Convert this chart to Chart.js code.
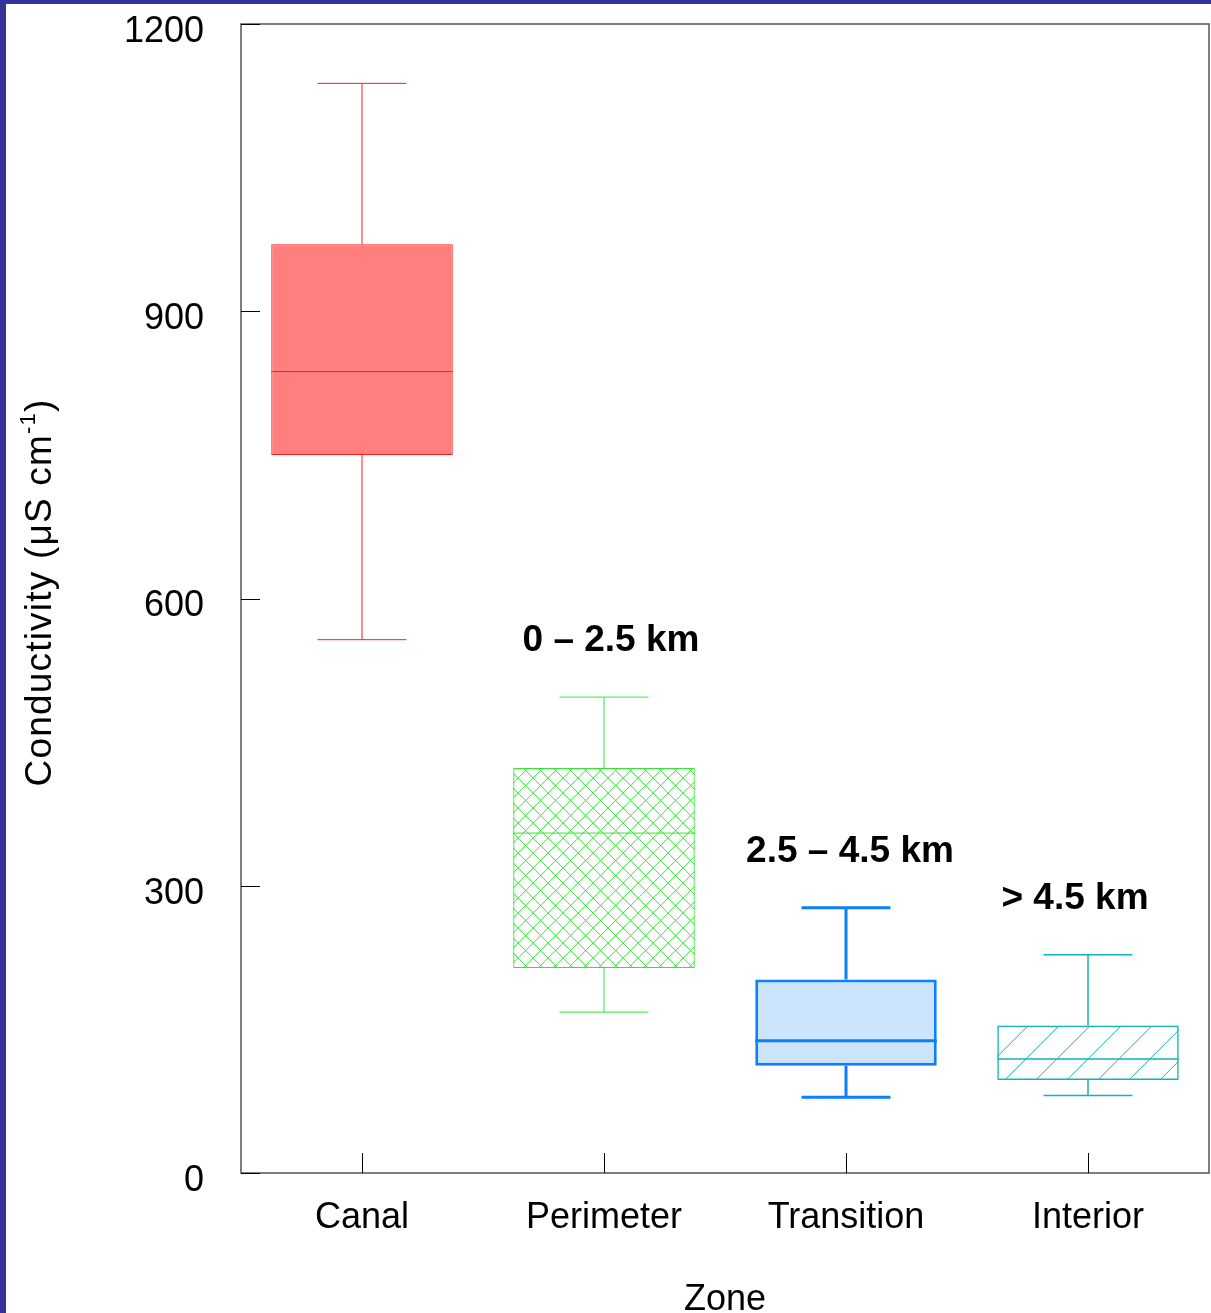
<!DOCTYPE html>
<html>
<head>
<meta charset="utf-8">
<script src="https://cdn.jsdelivr.net/npm/chart.js@4/dist/chart.umd.min.js"></script>
<style>
  html, body { margin: 0; padding: 0; background: #333399; overflow: hidden; }
  #wrap { position: absolute; left: 6px; top: 4px; width: 1205px; height: 1318px; background: #fff; }
</style>
</head>
<body>
<div id="wrap"><canvas id="chart" width="1205" height="1318"></canvas></div>
<script>
// Данные: зоны и статистика ящиков
const zones = ["Canal", "Perimeter", "Transition", "Interior"];
const whiskerMin = [557, 168, 79, 81];
const q1 = [750, 214, 112, 97];
const median = [837, 355, 138, 119];
const q3 = [970, 423, 202, 154];
const whiskerMax = [1138, 497, 277, 228];
const distanceLabels = ["", "0 \u2013 2.5 km", "2.5 \u2013 4.5 km", "> 4.5 km"];
const yTicks = [0, 300, 600, 900, 1200];

const FONT = "'Liberation Sans', Arial, sans-serif";

// Оформление
const lineColors = ["#ff1a1a", "#2ee82e", "#0a80ff", "#14b4b4"];
const lineWidths = [1, 1, 3, 1.5];
const fills = ["#ff7f7f", "rgba(0,0,0,0)", "#cce4fc", "rgba(0,0,0,0)"];
// штриховка: шаг по горизонтали, перекрёстная или нет (0 — без штриховки)
const hatchStep = [0, 15, 0, 31];
const hatchCross = [false, true, false, false];
const labelDx = [0, 7, 4, -13];

const ctx = document.getElementById("chart").getContext("2d");

// Штриховка внутри ящиков
const boxHatch = {
  id: "boxHatch",
  beforeDatasetsDraw(chart) {
    const c = chart.ctx;
    const meta = chart.getDatasetMeta(0);
    meta.data.forEach((el, i) => {
      if (!hatchStep[i]) return;
      const p = el.getProps(["x", "y", "base", "width"], true);
      const left = p.x - p.width / 2;
      const top = Math.min(p.y, p.base);
      const h = Math.abs(p.base - p.y);
      const w = p.width;
      const step = hatchStep[i];
      c.save();
      c.beginPath();
      c.rect(left, top, w, h);
      c.clip();
      c.strokeStyle = lineColors[i];
      c.lineWidth = 1;
      c.beginPath();
      for (let k = -h; k < w + step; k += step) {
        c.moveTo(left + k, top + h);
        c.lineTo(left + k + h, top);
        if (hatchCross[i]) {
          c.moveTo(left + k, top);
          c.lineTo(left + k + h, top + h);
        }
      }
      c.stroke();
      c.restore();
    });
  },
};

// Усы, медианы, рамка, засечки и подписи
const boxExtras = {
  id: "boxExtras",
  afterDatasetsDraw(chart) {
    const c = chart.ctx;
    const xs = chart.scales.x;
    const ys = chart.scales.y;
    const meta = chart.getDatasetMeta(0);
    const area = chart.chartArea;
    c.save();
    zones.forEach((z, i) => {
      const x = xs.getPixelForValue(i);
      const bw = meta.data[i].width;
      const cap = bw * 0.245;
      c.strokeStyle = lineColors[i];
      c.lineWidth = lineWidths[i];
      c.beginPath();
      c.moveTo(x, ys.getPixelForValue(q3[i]));
      c.lineTo(x, ys.getPixelForValue(whiskerMax[i]));
      c.moveTo(x - cap, ys.getPixelForValue(whiskerMax[i]));
      c.lineTo(x + cap, ys.getPixelForValue(whiskerMax[i]));
      c.moveTo(x, ys.getPixelForValue(q1[i]));
      c.lineTo(x, ys.getPixelForValue(whiskerMin[i]));
      c.moveTo(x - cap, ys.getPixelForValue(whiskerMin[i]));
      c.lineTo(x + cap, ys.getPixelForValue(whiskerMin[i]));
      c.moveTo(x - bw / 2, ys.getPixelForValue(median[i]));
      c.lineTo(x + bw / 2, ys.getPixelForValue(median[i]));
      c.stroke();

      if (distanceLabels[i]) {
        c.fillStyle = "#000";
        c.font = "bold 37px " + FONT;
        c.textAlign = "center";
        c.textBaseline = "middle";
        c.fillText(distanceLabels[i], x + labelDx[i], ys.getPixelForValue(whiskerMax[i]) - 56);
      }
    });

    // рамка
    c.strokeStyle = "#555";
    c.lineWidth = 1.5;
    c.strokeRect(area.left, area.top, area.right - area.left, area.bottom - area.top);

    // засечки внутрь
    c.strokeStyle = "#000";
    c.lineWidth = 1;
    c.beginPath();
    yTicks.forEach((v) => {
      const y = Math.round(ys.getPixelForValue(v)) + 0.5;
      c.moveTo(area.left, y);
      c.lineTo(area.left + 19, y);
    });
    zones.forEach((z, i) => {
      const x = Math.round(xs.getPixelForValue(i)) + 0.5;
      c.moveTo(x, area.bottom);
      c.lineTo(x, area.bottom - 20);
    });
    c.stroke();

    // подпись оси Y с верхним индексом
    const main = "Conductivity (\u03bcS cm";
    const sup = "-1";
    const tail = ")";
    c.letterSpacing = "1.2px";
    c.font = "37px " + FONT;
    const wMain = c.measureText(main).width;
    const wTail = c.measureText(tail).width;
    c.font = "22px " + FONT;
    const wSup = c.measureText(sup).width;
    const total = wMain + wSup + wTail;
    c.translate(32, (area.top + area.bottom) / 2 - 6);
    c.rotate(-Math.PI / 2);
    c.fillStyle = "#000";
    c.textAlign = "left";
    c.textBaseline = "alphabetic";
    let pos = -total / 2;
    c.font = "37px " + FONT;
    c.fillText(main, pos, 13);
    pos += wMain;
    c.font = "22px " + FONT;
    c.fillText(sup, pos, -3);
    pos += wSup;
    c.font = "37px " + FONT;
    c.fillText(tail, pos, 13);
    c.restore();
  },
};

new Chart(ctx, {
  type: "bar",
  data: {
    labels: zones,
    datasets: [
      {
        data: zones.map((z, i) => [q1[i], q3[i]]),
        backgroundColor: fills,
        borderColor: lineColors,
        borderWidth: lineWidths,
        borderSkipped: false,
        barPercentage: 0.75,
        categoryPercentage: 1,
      },
    ],
  },
  options: {
    responsive: false,
    animation: false,
    devicePixelRatio: 1,
    layout: { padding: { top: 20, right: 2, left: 0, bottom: 0 } },
    plugins: { legend: { display: false }, tooltip: { enabled: false } },
    scales: {
      x: {
        grid: { display: false, drawTicks: false },
        border: { display: false },
        ticks: { color: "#000", font: { family: FONT, size: 36 }, padding: 23 },
        title: {
          display: true,
          text: "Zone",
          color: "#000",
          font: { family: FONT, size: 36 },
          padding: { top: 0, bottom: 0 },
        },
        afterFit(scale) {
          scale.height = 149;
          scale.paddingLeft = 0;
          scale.paddingRight = 0;
        },
      },
      y: {
        min: 0,
        max: 1200,
        afterBuildTicks(scale) {
          scale.ticks = yTicks.map((v) => ({ value: v }));
        },
        grid: { display: false, drawTicks: false },
        border: { display: false },
        ticks: {
          color: "#000",
          font: { family: FONT, size: 36 },
          padding: 37,
          labelOffset: 8,
          callback: (v) => String(v),
        },
        afterFit(scale) {
          scale.width = 235;
          scale.paddingTop = 0;
          scale.paddingBottom = 0;
        },
      },
    },
  },
  plugins: [boxHatch, boxExtras],
});
</script>
</body>
</html>
